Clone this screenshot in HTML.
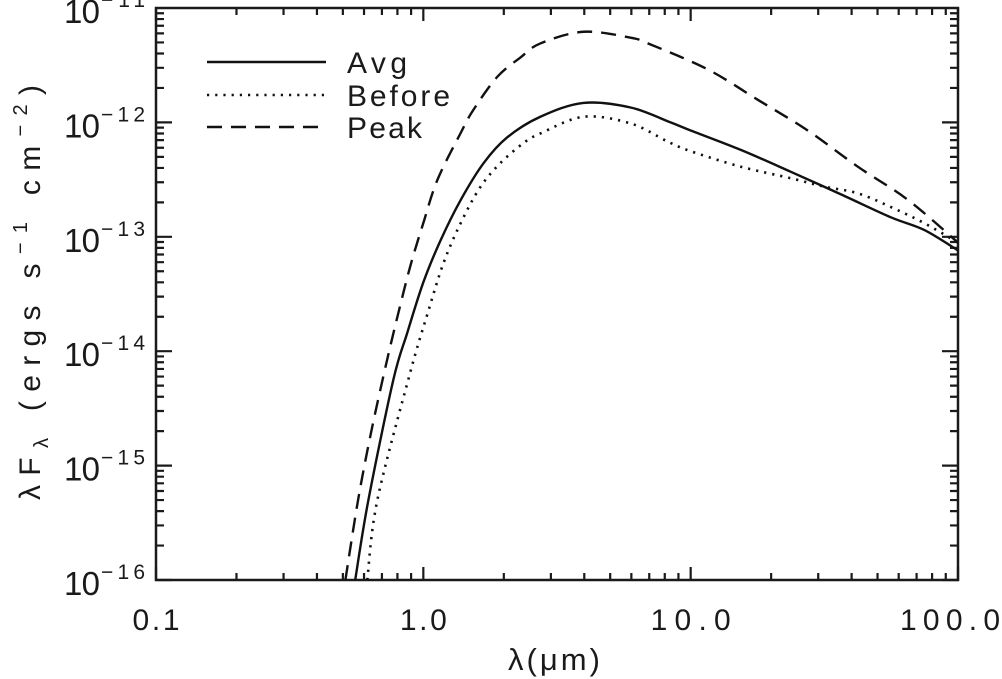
<!DOCTYPE html>
<html><head><meta charset="utf-8"><style>
html,body{margin:0;padding:0;background:#fff;}
svg{display:block;font-family:"Liberation Sans",sans-serif;}
</style></head><body>
<svg id="chart" width="1002" height="679" viewBox="0 0 1002 679" xmlns="http://www.w3.org/2000/svg">
<defs><clipPath id="plotclip"><rect x="156" y="8" width="802" height="572"/></clipPath></defs>
<g id="axes"></g>
<g id="series" clip-path="url(#plotclip)"></g>
<g id="legend"></g>
<text x="508" y="670" font-size="31" textLength="92" lengthAdjust="spacing" fill="#1a1a1a">λ(μm)</text>
<text transform="translate(40,500) rotate(-90)" font-size="30" textLength="415" lengthAdjust="spacing" fill="#1a1a1a">λF<tspan font-size="20" dy="8">λ</tspan><tspan dy="-8"> (ergs s</tspan><tspan font-size="20" dy="-13">−1</tspan><tspan dy="13"> cm</tspan><tspan font-size="20" dy="-13">−2</tspan><tspan dy="13">)</tspan></text>
</svg>
<script>
// data
const avgLambda = [0.556,0.623,0.772,0.871,1.0,1.16,1.38,1.68,2.06,2.74,3.97,5.96,8.41,10,15.4,23.7,36.5,56.1,74.6,100];
const avgFlux = [1.0e-16,5.0e-16,5.6e-15,1.45e-14,4.0e-14,9.3e-14,2.1e-13,4.4e-13,7.4e-13,1.12e-12,1.48e-12,1.35e-12,1.0e-12,8.5e-13,5.75e-13,3.7e-13,2.35e-13,1.48e-13,1.15e-13,7.6e-14];
const beforeLambda = [0.617,0.673,0.893,1.035,1.19,1.38,1.63,1.94,2.37,2.74,3.97,5.96,8.20,10,15.4,23.7,31.5,42.2,56.1,74.6,100];
const beforeFlux = [1.0e-16,5.0e-16,6.5e-15,2.1e-14,5.9e-14,1.32e-13,2.7e-13,4.4e-13,6.6e-13,8.0e-13,1.12e-12,9.8e-13,6.8e-13,5.6e-13,4.1e-13,3.25e-13,2.75e-13,2.4e-13,1.82e-13,1.32e-13,8.9e-14];
const peakLambda = [0.511,0.570,0.637,0.721,0.800,0.893,1.0,1.13,1.38,1.54,1.89,2.31,2.74,3.97,5.96,7.08,11.6,17.8,27.4,42.2,65.0,100];
const peakFlux = [1.0e-16,5.0e-16,1.93e-15,7.2e-15,2.0e-14,5.5e-14,1.32e-13,3.16e-13,8.1e-13,1.29e-12,2.5e-12,3.7e-12,4.9e-12,6.2e-12,5.5e-12,4.8e-12,2.9e-12,1.58e-12,8.5e-13,4.1e-13,2.1e-13,8.9e-14];
const xTickValues = [0.1,1,10,100];
const xTickLabels = ["0.1","1.0","10.0","100.0"];
const yTickExps = [-16,-15,-14,-13,-12,-11];

const NS="http://www.w3.org/2000/svg";
const L=156,R=958,T=8,B=580;
const xDecade=(R-L)/3, yDecade=(B-T)/5;
function xs(v){return L+(Math.log10(v)+1)*xDecade;}
function ys(v){return T+(-11-Math.log10(v))*yDecade;}
function mk(tag,attrs,parent){const e=document.createElementNS(NS,tag);for(const k in attrs)e.setAttribute(k,attrs[k]);parent.appendChild(e);return e;}
const axes=document.getElementById('axes');
const frame=mk('rect',{x:L,y:T,width:R-L,height:B-T,fill:'none',stroke:'#1a1a1a','stroke-width':2.5},axes);


let td='';
for(let d=-1;d<2;d++){for(let m=1;m<10;m++){const v=m*Math.pow(10,d);const x=xs(v);const len=m===1?13:7;td+=`M${x},${B}V${B-len}M${x},${T}V${T+len}`;}}
td+=`M${R},${B}V${B-13}M${R},${T}V${T+13}`;
for(let e=-16;e<-11;e++){for(let m=1;m<10;m++){const v=m*Math.pow(10,e);const y=ys(v);const len=m===1?16:8;td+=`M${L},${y}H${L+len}M${R},${y}H${R-len}`;}}
const ticks=mk('path',{d:td,stroke:'#1a1a1a','stroke-width':2.2,fill:'none'},axes);


xTickValues.forEach((v,i)=>{
  const lab=xTickLabels[i];
  const w=lab.length*20+(lab.length>3?0:-13);
  let cx=xs(v);
  if(cx+w/2>1000)cx=1000-w/2;
  const t=mk('text',{x:cx-w/2,y:630,'font-size':30,textLength:w,lengthAdjust:'spacing',fill:'#1a1a1a'},axes);
  t.textContent=lab;
  
  
});
yTickExps.forEach(e=>{
  const y=ys(Math.pow(10,e));
  const t=mk('text',{x:64,y:y+15,'font-size':33,textLength:36,lengthAdjust:'spacing',fill:'#1a1a1a'},axes);
  t.textContent='10';
  
  
  const s=mk('text',{x:101,y:y-1,'font-size':21,textLength:44,lengthAdjust:'spacing',fill:'#1a1a1a'},axes);
  s.textContent='−'+(-e);
  
  
});
function pathFor(lams,fl){
  const p=lams.map((l,i)=>[xs(l),ys(fl[i])]);
  let d=`M${p[0][0]},${p[0][1]}`;
  for(let i=0;i<p.length-1;i++){
    const p0=p[i-1]||p[i],p1=p[i],p2=p[i+1],p3=p[i+2]||p2;
    const c1=[p1[0]+(p2[0]-p0[0])/6,p1[1]+(p2[1]-p0[1])/6];
    const c2=[p2[0]-(p3[0]-p1[0])/6,p2[1]-(p3[1]-p1[1])/6];
    d+=`C${c1[0]},${c1[1]} ${c2[0]},${c2[1]} ${p2[0]},${p2[1]}`;
  }
  return d;
}
const series=document.getElementById('series');
const sAvg=mk('path',{d:pathFor(avgLambda,avgFlux),fill:'none',stroke:'#111','stroke-width':2.4},series);


const sBef=mk('path',{d:pathFor(beforeLambda,beforeFlux),fill:'none',stroke:'#111','stroke-width':2.6,'stroke-dasharray':'2.2 6','stroke-linecap':'butt'},series);


const sPeak=mk('path',{d:pathFor(peakLambda,peakFlux),fill:'none',stroke:'#111','stroke-width':2.4,'stroke-dasharray':'15 9'},series);


const legend=document.getElementById('legend');
const entries=[["Avg",62,null,2.4,60],["Before",95,"2.2 6",2.6,103],["Peak",127,"15 9",2.4,75]];
entries.forEach(([name,y,dash,w,tw])=>{
  const a={x1:207,x2:326,y1:y,y2:y,stroke:'#111','stroke-width':w};
  if(dash)a['stroke-dasharray']=dash;
  const ln=mk('line',a,legend);
  
  
  const t=mk('text',{x:347,y:y+11,'font-size':30,textLength:tw,lengthAdjust:'spacing',fill:'#1a1a1a'},legend);
  t.textContent=name;
  
  
});
</script>
</body></html>
